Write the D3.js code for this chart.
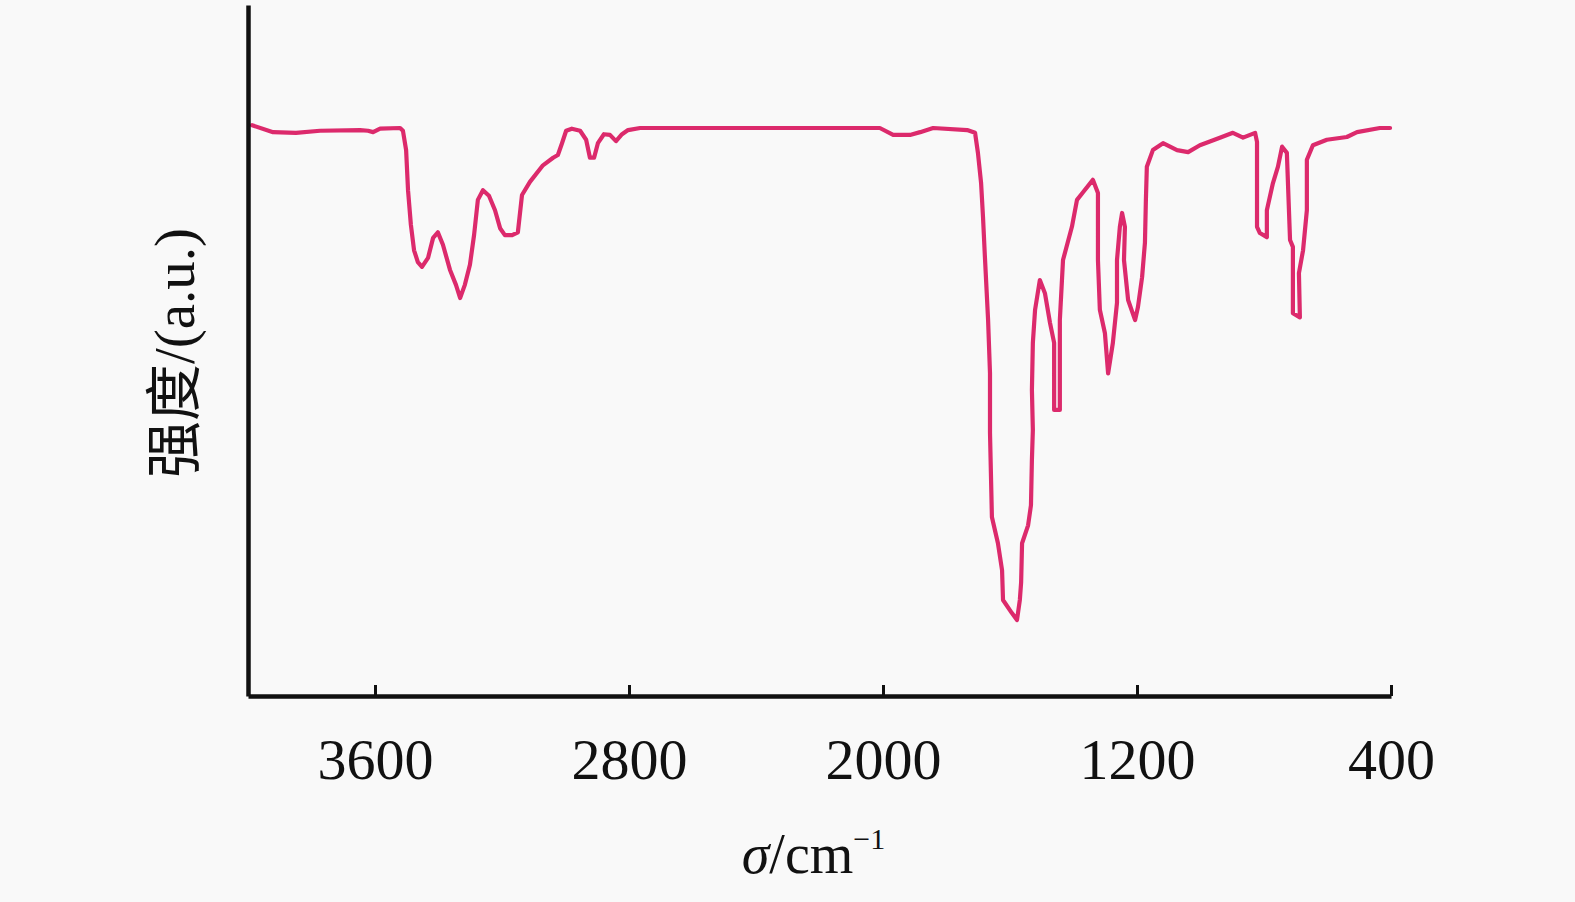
<!DOCTYPE html>
<html>
<head>
<meta charset="utf-8">
<script src="https://cdn.jsdelivr.net/npm/d3@7"></script>
<style>
  html, body { margin: 0; padding: 0; background: #f9f9f9; }
  svg { display: block; }
</style>
</head>
<body>
<svg id="chart" width="1575" height="902"></svg>
<script>
// Wavenumber (cm^-1) and intensity (a.u.)
const wavenumber = [3987,3921,3849,3773,3647,3622,3606,3584,3521,3512,3502,3496,3487,3477,3465,3452,3433,3417,3402,3386,3364,3345,3332,3317,3301,3288,3276,3260,3241,3222,3206,3191,3168,3150,3137,3112,3071,3039,3024,3011,2998,2980,2954,2935,2923,2910,2898,2879,2860,2841,2822,2803,2765,2010,1968,1915,1883,1842,1735,1710,1701,1691,1685,1679,1669,1663,1663,1657,1638,1625,1622,1594,1578,1569,1565,1562,1543,1534,1531,1528,1531,1528,1521,1506,1490,1474,1461,1461,1443,1443,1433,1405,1389,1370,1339,1323,1323,1317,1301,1291,1276,1263,1263,1254,1247,1238,1241,1228,1206,1197,1184,1175,1172,1169,1150,1118,1074,1039,1002,939,898,866,828,822,822,813,791,791,772,756,743,728,718,709,709,687,690,677,665,665,646,602,539,507,435,403];
const intensity = [82.6,81.6,81.5,81.8,81.9,81.8,81.6,82.1,82.2,81.8,79.0,73.2,68.2,64.5,62.8,62.1,63.4,66.3,67.1,65.3,61.7,59.5,57.6,59.5,62.4,66.7,71.8,73.2,72.4,70.3,67.7,66.7,66.7,67.1,72.5,74.4,76.8,77.9,78.3,80.0,81.8,82.1,81.8,80.5,77.9,77.9,80.0,81.3,81.2,80.3,81.3,81.9,82.2,82.2,81.2,81.2,81.6,82.2,81.9,81.5,78.6,74.2,69.3,63.5,54.4,46.7,38.1,25.9,22.1,18.2,13.9,12.0,11.0,13.9,16.4,22.1,24.7,27.6,34.2,38.5,44.3,51.1,55.9,60.2,58.3,54.0,51.1,41.4,41.4,54.4,63.1,67.9,71.8,72.9,74.7,72.8,63.1,55.9,52.5,46.7,51.1,56.9,63.1,67.9,69.9,67.9,63.1,57.3,54.4,56.3,60.6,65.6,71.8,76.6,79.0,80.0,79.0,78.7,79.7,80.8,81.5,80.8,81.5,80.2,67.9,67.0,66.4,70.3,74.2,76.6,79.5,78.6,66.0,65.0,55.4,54.8,61.2,64.5,70.3,77.6,79.7,80.5,80.9,81.6,82.2,82.2];
const xTicks = [3600, 2800, 2000, 1200, 400];
const xDomain = [4000, 400];
const yDomain = [0, 100];
const xTitle = "σ";
const xTitleRest = "/cm";
const xTitleSup = "−1";
const yTitle = "强度/(a.u.)";

const data = wavenumber.map((w, i) => ({ w, v: intensity[i] }));

const svg = d3.select("#chart");
const mLeft = 248, mRight = 1391, mTop = 5, mBottom = 696;

const x = d3.scaleLinear().domain(xDomain).range([mLeft, mRight]);
const y = d3.scaleLinear().domain(yDomain).range([mBottom, mTop]);

// Spectrum line
svg.append("path")
  .datum(data)
  .attr("fill", "none")
  .attr("stroke", "#dc2a6c")
  .attr("stroke-width", 4.2)
  .attr("stroke-linejoin", "round")
  .attr("stroke-linecap", "round")
  .attr("d", d3.line().x(d => x(d.w)).y(d => y(d.v)));

// Bottom axis
const xAxis = svg.append("g")
  .attr("transform", `translate(0,${mBottom})`)
  .call(d3.axisBottom(x).tickValues(xTicks).tickSize(-11).tickSizeOuter(0).tickPadding(42).tickFormat(d3.format("d")));
xAxis.select(".domain").attr("stroke", "#111").attr("stroke-width", 4.5);
xAxis.selectAll(".tick line").attr("stroke", "#111").attr("stroke-width", 3);
xAxis.selectAll(".tick text")
  .attr("fill", "#111")
  .style("font-family", "'Liberation Serif', 'Times New Roman', serif")
  .style("font-size", "58px");

// Left axis
const yAxis = svg.append("g")
  .attr("transform", `translate(${mLeft},0)`)
  .call(d3.axisLeft(y).tickValues([]).tickSizeOuter(0));
yAxis.select(".domain").attr("stroke", "#111").attr("stroke-width", 4.5);

// X title
const xt = svg.append("text")
  .attr("x", (mLeft + mRight) / 2 - 6)
  .attr("y", 873)
  .attr("text-anchor", "middle")
  .attr("fill", "#111")
  .style("font-family", "'Liberation Serif', 'Times New Roman', serif")
  .style("font-size", "56px");
xt.append("tspan").style("font-style", "italic").text(xTitle);
xt.append("tspan").text(xTitleRest);
xt.append("tspan").attr("dy", -24).style("font-size", "30px").text(xTitleSup);

// Y title
svg.append("text")
  .attr("transform", `translate(194,353) rotate(-90)`)
  .attr("text-anchor", "middle")
  .attr("fill", "#111")
  .style("font-family", "'Liberation Serif', 'Noto Sans CJK SC', serif")
  .style("font-size", "57px")
  .text(yTitle);
</script>
</body>
</html>
